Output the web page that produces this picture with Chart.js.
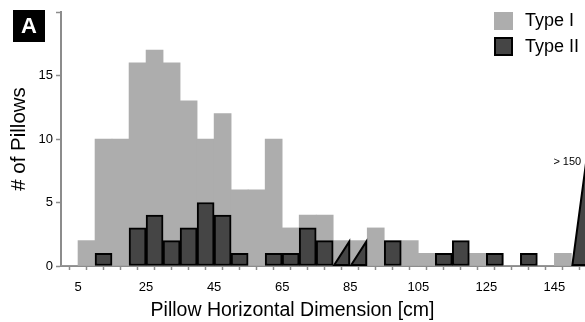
<!DOCTYPE html>
<html>
<head>
<meta charset="utf-8">
<script src="https://cdn.jsdelivr.net/npm/chart.js@4/dist/chart.umd.min.js"></script>
<style>
  body { margin: 0; background: #fff; }
</style>
</head>
<body>
<canvas id="chart" width="585" height="322"></canvas>
<script>
// bins are 5 cm wide, listed by their lower edge
const binStart = [0, 5, 10, 15, 20, 25, 30, 35, 40, 45, 50, 55, 60, 65, 70, 75, 80, 85, 90, 95, 100, 105, 110, 115, 120, 125, 130, 135, 140, 145, 150];
const typeI = [0, 2, 10, 10, 16, 17, 16, 13, 10, 12, 6, 6, 10, 3, 4, 4, 2, 2, 3, 2, 2, 1, 1, 1, 1, 1, 0, 0, 0, 1, 0];
const typeII = [0, 0, 1, 0, 3, 4, 2, 3, 5, 4, 1, 0, 1, 1, 3, 2, 2, 2, 0, 2, 0, 0, 1, 2, 0, 1, 0, 1, 0, 0, 9];
// Type II bins drawn as slanted (broken) bars in the original figure
const slantedBins = [80, 85, 150];
const xTickLabels = [5, 25, 45, 65, 85, 105, 125, 145];
const binWidth = 5;

const LightGrey = "#adadad";
const DarkGrey = "#454545";
const AxisGrey = "#8c8c8c";

Chart.defaults.font.family = "'Liberation Sans', Arial, Helvetica, sans-serif";
Chart.defaults.color = "#000";

function toPoints(values, skipSlanted) {
    return binStart.map(function (s, i) {
        var v = values[i];
        if (skipSlanted && slantedBins.includes(s)) v = null;
        if (skipSlanted && v === 0) v = null;
        return { x: s + binWidth / 2, y: v };
    });
}

const extras = {
    id: 'extras',
    afterDatasetsDraw(chart) {
        const ctx = chart.ctx, area = chart.chartArea;
        const x = chart.scales.x, y = chart.scales.y;
        ctx.save();
        ctx.beginPath();
        ctx.rect(area.left, area.top, area.right - area.left, area.bottom - area.top);
        ctx.clip();
        slantedBins.forEach(function (start) {
            const i = binStart.indexOf(start);
            const x0 = x.getPixelForValue(start), x1 = x.getPixelForValue(start + binWidth);
            const y0 = y.getPixelForValue(0), y1 = y.getPixelForValue(typeII[i]);
            ctx.beginPath();
            ctx.moveTo(x0 + 1, y0 - 1);
            ctx.lineTo(x1 - 1, y1 + 1);
            ctx.lineTo(x1 - 1, y0 - 1);
            ctx.closePath();
            ctx.fillStyle = DarkGrey;
            ctx.fill();
            ctx.lineWidth = 2;
            ctx.strokeStyle = "#000";
            ctx.stroke();
        });
        ctx.restore();
    },
    afterDraw(chart) {
        const ctx = chart.ctx;
        const x = chart.scales.x, y = chart.scales.y;
        ctx.save();
        // panel letter
        ctx.fillStyle = "#000";
        ctx.fillRect(13, 10, 32, 32);
        ctx.fillStyle = "#fff";
        ctx.font = "bold 22px 'Liberation Sans', Arial, sans-serif";
        ctx.textAlign = "center";
        ctx.textBaseline = "middle";
        ctx.fillText("A", 29, 27);

        // legend
        ctx.fillStyle = LightGrey;
        ctx.fillRect(494, 12, 19, 18);
        ctx.fillStyle = DarkGrey;
        ctx.fillRect(495, 38, 17, 17);
        ctx.lineWidth = 2;
        ctx.strokeStyle = "#000";
        ctx.strokeRect(495, 38, 17, 17);
        ctx.fillStyle = "#000";
        ctx.font = "18px 'Liberation Sans', Arial, sans-serif";
        ctx.textAlign = "left";
        ctx.fillText(chart.data.datasets[1].label, 525, 21);
        ctx.fillText(chart.data.datasets[0].label, 525, 47);

        // label for the off-scale bin
        ctx.font = "11px 'Liberation Sans', Arial, sans-serif";
        ctx.textBaseline = "alphabetic";
        ctx.fillText("> 150", x.getPixelForValue(150) - 18, y.getPixelForValue(8) + 1);
        ctx.restore();
    }
};

var myChart = new Chart(document.getElementById("chart"), {
    type: 'bar',
    data: {
        datasets: [{
            label: "Type II",
            data: toPoints(typeII, true),
            backgroundColor: DarkGrey,
            borderColor: "#000",
            borderWidth: 2,
            borderSkipped: false,
            order: 0
        }, {
            label: "Type I",
            data: toPoints(typeI, false),
            backgroundColor: LightGrey,
            borderWidth: 0,
            order: 1
        }]
    },
    options: {
        responsive: false,
        animation: false,
        devicePixelRatio: 1,
        grouped: false,
        barPercentage: 1,
        categoryPercentage: 1,
        layout: { padding: { top: 12, right: 0, left: 0, bottom: 0 } },
        plugins: {
            legend: { display: false },
            tooltip: { enabled: false },
            title: {
                display: true,
                position: 'bottom',
                text: "Pillow Horizontal Dimension [cm]",
                font: { size: 19.5, weight: 'normal' },
                padding: { top: 2, bottom: 0 }
            }
        },
        scales: {
            x: {
                type: 'linear',
                min: 0,
                max: 154,
                offset: false,
                afterFit: function (s) { s.height = 30.6; },
                grid: { drawOnChartArea: false, tickLength: 4, tickColor: AxisGrey, tickWidth: 1.5 },
                border: { color: AxisGrey, width: 2 },
                ticks: {
                    stepSize: 5,
                    includeBounds: false,
                    autoSkip: false,
                    maxRotation: 0,
                    padding: 10,
                    font: { size: 13 },
                    callback: function (v) { return xTickLabels.includes(v) ? String(v) : ''; }
                }
            },
            y: {
                min: 0,
                max: 20,
                afterFit: function (s) { s.width = 61; },
                grid: { drawOnChartArea: false, tickLength: 5, tickColor: AxisGrey, tickWidth: 1.5 },
                border: { color: AxisGrey, width: 2 },
                ticks: {
                    stepSize: 5,
                    padding: 3,
                    font: { size: 13 },
                    callback: function (v) { return v < 20 ? String(v) : ''; }
                },
                title: {
                    display: true,
                    text: "# of Pillows",
                    font: { size: 20.5 },
                    padding: { top: 7.5, bottom: 0 }
                }
            }
        }
    },
    plugins: [extras]
});
</script>
</body>
</html>
